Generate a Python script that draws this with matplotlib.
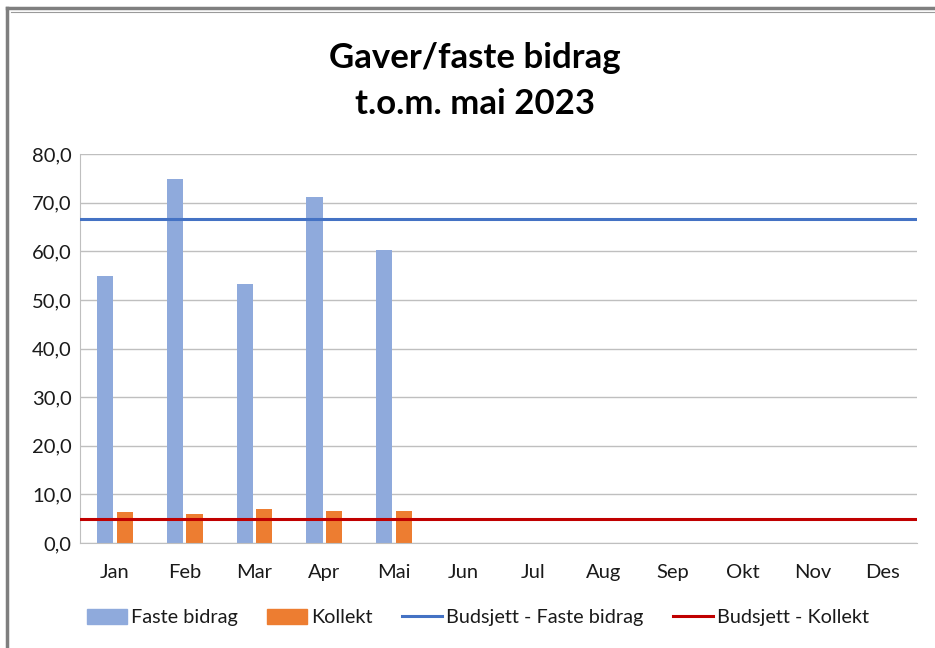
import numpy as np
from matplotlib import pyplot as plt
from matplotlib.lines import Line2D

months = ['Jan', 'Feb', 'Mar', 'Apr', 'Mai', 'Jun', 'Jul', 'Aug', 'Sep', 'Okt', 'Nov', 'Des']
faste = [55.0, 74.8, 53.2, 71.1, 60.2]
kollekt = [6.3, 5.9, 7.1, 6.5, 6.5]
budsjett_faste = 66.6
budsjett_kollekt = 4.9

plt.rcParams['font.family'] = ['Lato', 'DejaVu Sans']

fig = plt.figure(figsize=(9.35, 6.48), dpi=100)
ax = fig.add_axes([0.0856, 0.162, 0.8954, 0.6])

x = np.arange(len(months))
w = 0.234
ax.bar(x[:len(faste)] - 0.14, faste, w, color='#8FAADC', label='Faste bidrag', zorder=2)
ax.bar(x[:len(kollekt)] + 0.14, kollekt, w, color='#ED7D31', label='Kollekt', zorder=2)
ax.axhline(budsjett_faste, color='#4472C4', lw=2.2, zorder=3)
ax.axhline(budsjett_kollekt, color='#C00000', lw=2.2, zorder=3)

ax.set_xlim(-0.5, 11.5)
ax.set_ylim(0, 80)
ax.set_yticks(np.arange(0, 81, 10))
ax.set_yticklabels([f'{v:.1f}'.replace('.', ',') for v in np.arange(0, 81, 10)])
ax.set_xticks(x)
ax.set_xticklabels(months)
ax.tick_params(axis='both', length=0, labelsize=14.5, colors='#404040', labelcolor='#1a1a1a')
ax.tick_params(axis='x', pad=15)
ax.tick_params(axis='y', pad=6)
ax.grid(axis='y', color='#BFBFBF', lw=1, zorder=0)
for s in ['top', 'right']:
    ax.spines[s].set_visible(False)
ax.spines['left'].set_color('#BFBFBF')
ax.spines['bottom'].set_color('#BFBFBF')

fig.text(0.508, 0.911, 'Gaver/faste bidrag', ha='center', va='center',
         fontsize=25, fontweight='bold', color='#000000')
fig.text(0.508, 0.839, 't.o.m. mai 2023', ha='center', va='center',
         fontsize=25, fontweight='bold', color='#000000')

handles = [plt.Rectangle((0, 0), 1, 1, color='#8FAADC'),
           plt.Rectangle((0, 0), 1, 1, color='#ED7D31'),
           Line2D([], [], color='#4472C4', lw=2.2),
           Line2D([], [], color='#C00000', lw=2.2)]
labels = ['Faste bidrag', 'Kollekt', 'Budsjett - Faste bidrag', 'Budsjett - Kollekt']
fig.legend(handles, labels, loc='center', bbox_to_anchor=(0.511, 0.047), ncol=4,
           frameon=False, fontsize=14.3, handlelength=2.0, handleheight=0.85,
           handletextpad=0.2, columnspacing=1.5, labelcolor='#1a1a1a')

# outer frame (left and top edges visible in the reference)
fig.add_artist(Line2D([0.008, 0.008], [0, 0.987], color='#7F7F7F', lw=2.5))
fig.add_artist(Line2D([0.008, 1.0], [0.987, 0.987], color='#7F7F7F', lw=2.5))
fig.add_artist(Line2D([0.012, 1.0], [0.981, 0.981], color='#9A9A9A', lw=0.8))

plt.savefig('out.png', dpi=100)
